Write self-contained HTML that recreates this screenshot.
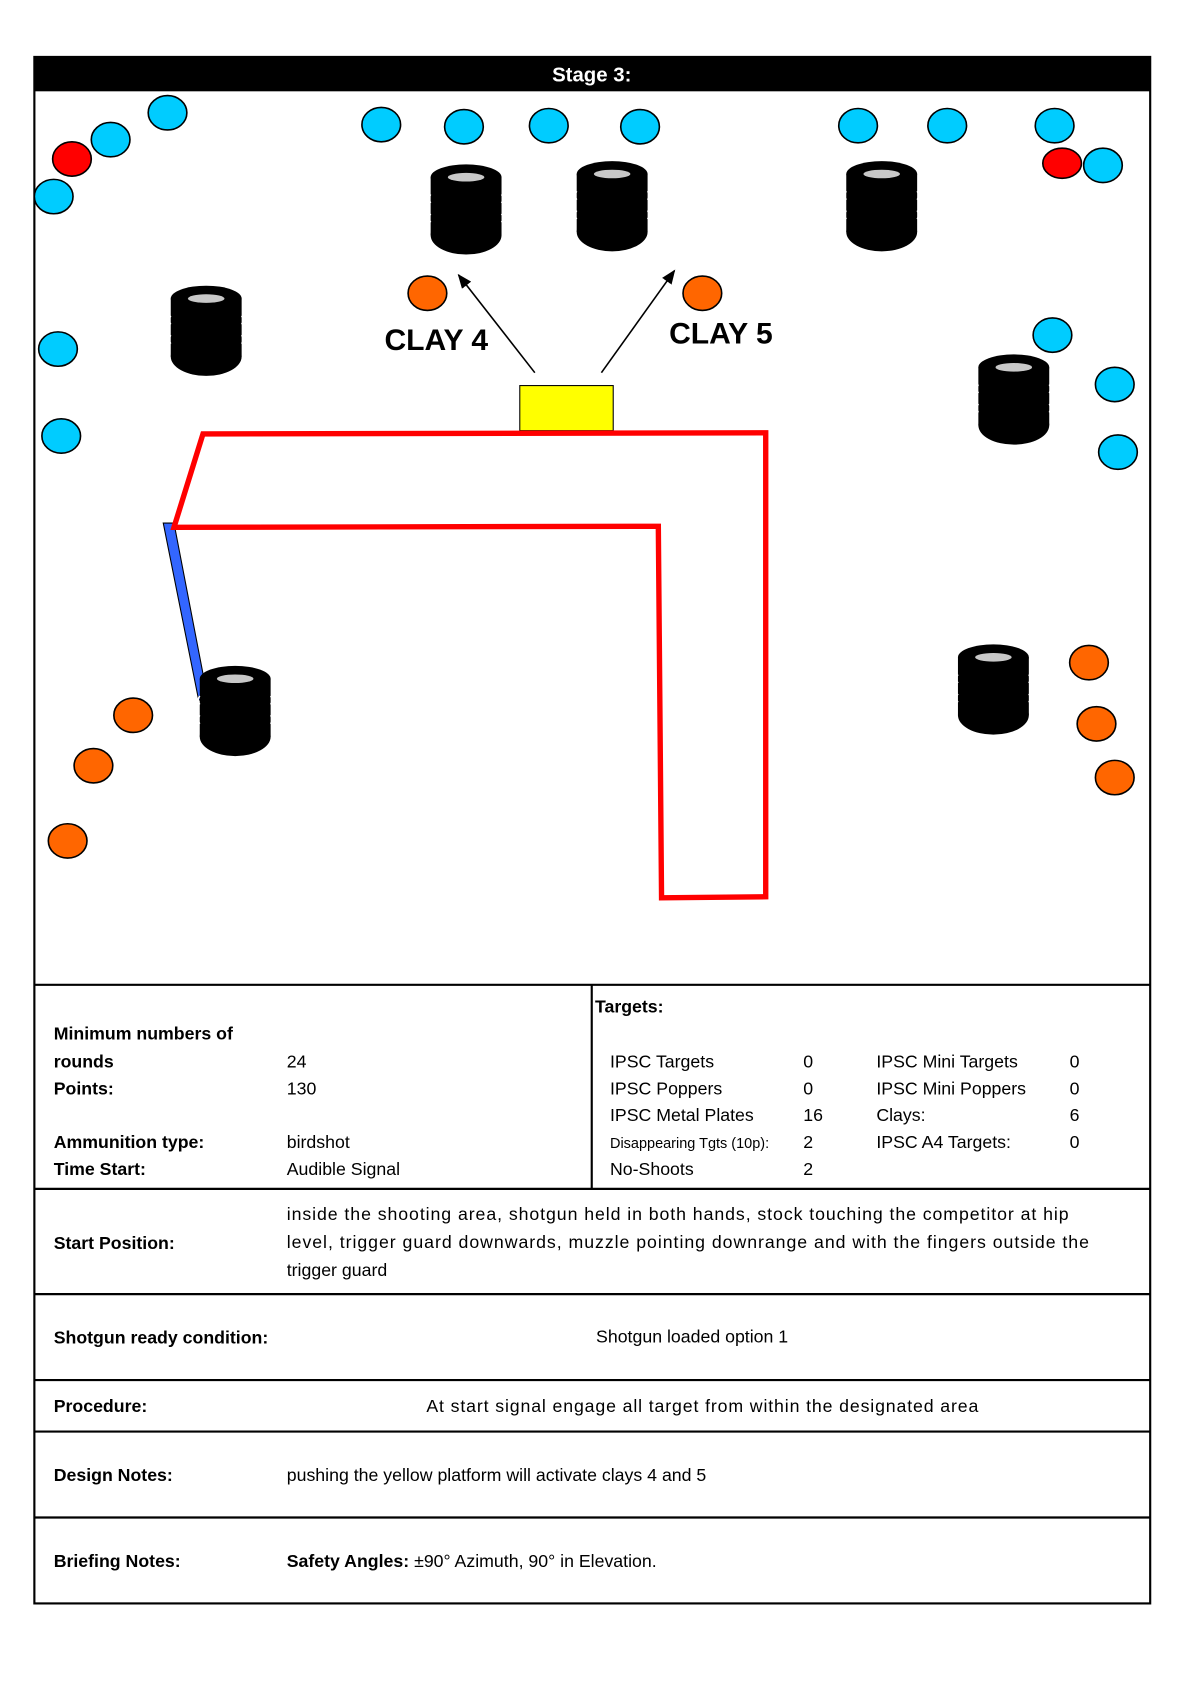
<!DOCTYPE html>
<html><head><meta charset="utf-8"><style>
html,body{margin:0;padding:0;background:#fff;}
svg{display:block;}
text{font-family:"Liberation Sans",sans-serif;}
</style></head><body>
<svg width="1191" height="1684" viewBox="0 0 1109 1568" xmlns="http://www.w3.org/2000/svg">
<defs>
<g id="tire">
  <ellipse cx="0" cy="66" rx="33" ry="18" fill="#000"/>
  <rect x="-33" y="12" width="66" height="54" fill="#000"/>
  <ellipse cx="0" cy="12" rx="33" ry="12" fill="#000"/>
  <ellipse cx="0" cy="12" rx="17" ry="4" fill="#c8c8c8"/>
  <path d="M-33 28 q-3 4 0 8 M33 28 q3 4 0 8 M-33 46 q-3 4 0 8 M33 46 q3 4 0 8" stroke="#fff" stroke-width="1.5" fill="none"/>
</g>
<marker id="ah" viewBox="0 0 10 10" refX="9" refY="5" markerWidth="9" markerHeight="9" orient="auto"><path d="M0 1 L10 5 L0 9 z" fill="#000"/></marker>
</defs>
<rect x="32" y="53" width="1039" height="1440" fill="#fff" stroke="#000" stroke-width="2"/>
<rect x="32" y="53" width="1039" height="32" fill="#000"/>
<text x="551" y="76" text-anchor="middle" fill="#fff" font-weight="bold" font-size="19">Stage 3:</text>

<g stroke="#000" stroke-width="1.5" fill="#00ccff">
<ellipse cx="156" cy="105" rx="18" ry="16"/>
<ellipse cx="103" cy="130" rx="18" ry="16"/>
<ellipse cx="50" cy="183" rx="18" ry="16"/>
<ellipse cx="355" cy="116" rx="18" ry="16"/>
<ellipse cx="432" cy="118" rx="18" ry="16"/>
<ellipse cx="511" cy="117" rx="18" ry="16"/>
<ellipse cx="596" cy="118" rx="18" ry="16"/>
<ellipse cx="799" cy="117" rx="18" ry="16"/>
<ellipse cx="882" cy="117" rx="18" ry="16"/>
<ellipse cx="982" cy="117" rx="18" ry="16"/>
<ellipse cx="1027" cy="154" rx="18" ry="16"/>
<ellipse cx="54" cy="325" rx="18" ry="16"/>
<ellipse cx="57" cy="406" rx="18" ry="16"/>
<ellipse cx="980" cy="312" rx="18" ry="16"/>
<ellipse cx="1038" cy="358" rx="18" ry="16"/>
<ellipse cx="1041" cy="421" rx="18" ry="16"/>
</g>
<g stroke="#000" stroke-width="1.5" fill="#ff0000">
<ellipse cx="67" cy="148" rx="18" ry="16"/>
<ellipse cx="989" cy="152" rx="18" ry="14"/>
</g>
<g stroke="#000" stroke-width="1.5" fill="#ff6600">
<ellipse cx="398" cy="273" rx="18" ry="16"/>
<ellipse cx="654" cy="273" rx="18" ry="16"/>
<ellipse cx="124" cy="666" rx="18" ry="16"/>
<ellipse cx="87" cy="713" rx="18" ry="16"/>
<ellipse cx="63" cy="783" rx="18" ry="16"/>
<ellipse cx="1014" cy="617" rx="18" ry="16"/>
<ellipse cx="1021" cy="674" rx="18" ry="16"/>
<ellipse cx="1038" cy="724" rx="18" ry="16"/>
</g>

<use href="#tire" x="434" y="153"/>
<use href="#tire" x="570" y="150"/>
<use href="#tire" x="821" y="150"/>
<use href="#tire" x="192" y="266"/>
<use href="#tire" x="944" y="330"/>
<use href="#tire" x="925" y="600"/>

<polygon points="152,487 162,487 193,648 185,652" fill="#3366ff" stroke="#000" stroke-width="1"/>
<use href="#tire" x="219" y="620"/>

<rect x="484" y="359" width="87" height="42" fill="#ffff00" stroke="#000" stroke-width="1"/>

<path d="M189 404 L713 403 L713 835 L616 836 L613 490 L162 491 Z" fill="none" stroke="#ff0000" stroke-width="5"/>

<line x1="498" y1="347" x2="427" y2="256" stroke="#000" stroke-width="1.5" marker-end="url(#ah)"/>
<line x1="560" y1="347" x2="628" y2="252" stroke="#000" stroke-width="1.5" marker-end="url(#ah)"/>
<text x="358" y="326" font-weight="bold" font-size="28">CLAY 4</text>
<text x="623" y="320" font-weight="bold" font-size="28">CLAY 5</text>

<g stroke="#000" stroke-width="2">
<line x1="32" y1="917" x2="1071" y2="917"/>
<line x1="551" y1="917" x2="551" y2="1107"/>
<line x1="32" y1="1107" x2="1071" y2="1107"/>
<line x1="32" y1="1205" x2="1071" y2="1205"/>
<line x1="32" y1="1285" x2="1071" y2="1285"/>
<line x1="32" y1="1333" x2="1071" y2="1333"/>
<line x1="32" y1="1413" x2="1071" y2="1413"/>
</g>

<g font-size="16.5" fill="#000">
<g font-weight="bold">
<text x="50" y="968">Minimum numbers of</text>
<text x="50" y="994">rounds</text>
<text x="50" y="1019">Points:</text>
<text x="50" y="1069">Ammunition type:</text>
<text x="50" y="1094">Time Start:</text>
<text x="554" y="943">Targets:</text>
<text x="50" y="1163">Start Position:</text>
<text x="50" y="1251">Shotgun ready condition:</text>
<text x="50" y="1315">Procedure:</text>
<text x="50" y="1379">Design Notes:</text>
<text x="50" y="1459">Briefing Notes:</text>
</g>
<text x="267" y="994">24</text>
<text x="267" y="1019">130</text>
<text x="267" y="1069">birdshot</text>
<text x="267" y="1094">Audible Signal</text>

<text x="568" y="994">IPSC Targets</text>
<text x="568" y="1019">IPSC Poppers</text>
<text x="568" y="1044">IPSC Metal Plates</text>
<text x="568" y="1069" font-size="13.5">Disappearing Tgts (10p):</text>
<text x="568" y="1094">No-Shoots</text>
<text x="748" y="994">0</text>
<text x="748" y="1019">0</text>
<text x="748" y="1044">16</text>
<text x="748" y="1069">2</text>
<text x="748" y="1094">2</text>
<text x="816" y="994">IPSC Mini Targets</text>
<text x="816" y="1019">IPSC Mini Poppers</text>
<text x="816" y="1044">Clays:</text>
<text x="816" y="1069">IPSC A4 Targets:</text>
<text x="996" y="994">0</text>
<text x="996" y="1019">0</text>
<text x="996" y="1044">6</text>
<text x="996" y="1069">0</text>

<text x="267" y="1136" textLength="728">inside the shooting area, shotgun held in both hands, stock touching the competitor at hip</text>
<text x="267" y="1162" textLength="747">level, trigger guard downwards, muzzle pointing downrange and with the fingers outside the</text>
<text x="267" y="1188">trigger guard</text>
<text x="555" y="1250">Shotgun loaded option 1</text>
<text x="397" y="1315" textLength="514">At start signal engage all target from within the designated area</text>
<text x="267" y="1379">pushing the yellow platform will activate clays 4 and 5</text>
<text x="267" y="1459"><tspan font-weight="bold">Safety Angles:</tspan> ±90° Azimuth, 90° in Elevation.</text>
</g>
</svg>
</body></html>
